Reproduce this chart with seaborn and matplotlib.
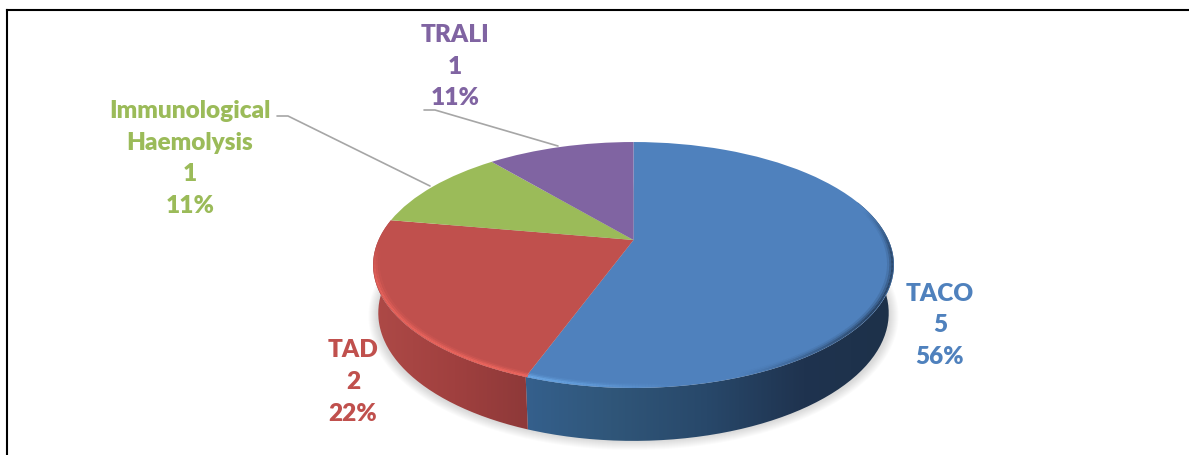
import numpy as np
import seaborn as sns
import matplotlib.pyplot as plt
from matplotlib.collections import LineCollection
from matplotlib.patches import PathPatch
from matplotlib.path import Path
from matplotlib.transforms import Transform

# Data
categories = ["TACO", "TAD", "Immunological\nHaemolysis", "TRALI"]
counts = [5, 2, 1, 1]
percents = ["56%", "22%", "11%", "11%"]
colors = ["#4F81BD", "#C0504D", "#9BBB59", "#8064A2"]

sns.set_theme(style="white")
plt.rcParams["font.family"] = ["Lato", "DejaVu Sans"]

W, H = 1189, 456
CX, CY, K, P, C = 633.5, 241.0, 255.0, -68.9, 0.2033


def project(u, v):
    # unit circle to the tilted pie top (pixel coordinates)
    d = 1 + C * v
    return CX + K * u / d, (CY + P * v) / d


def project_low(u, v):
    x, y = project(u, v)
    return CX + (x - CX) * 0.98, 314 + (y - 266) * 1.04


class Tilt(Transform):
    input_dims = output_dims = 2

    def transform_non_affine(self, values):
        x, y = project(values[:, 0], values[:, 1])
        return np.column_stack([x, y])


def on_circle(theta, r=1.0):
    # pie degrees to circle coordinates
    a = np.radians(theta)
    return r * np.cos(a), r * np.sin(a)


fig = plt.figure(figsize=(W / 100, H / 100), dpi=100)
ax = fig.add_axes([0, 0, 1, 1])

wedges, _ = ax.pie(counts, colors=colors, startangle=90, counterclock=False,
                   wedgeprops={"linewidth": 0})
for w in wedges:
    w.set_transform(Tilt() + ax.transData)
    w.set_zorder(5)

# soft shadow under the pie
t = np.linspace(0, 2 * np.pi, 300)
for k in range(10):
    ax.fill(CX + (256 + k) * np.cos(t), 317 + (125 + k) * np.sin(t),
            color="#808080", alpha=0.03, lw=0, zorder=1)

# side wall, shaded left to right
wall_cmaps = [
    sns.blend_palette(["#35618F", "#305679", "#28486A", "#1F334F", "#1D3149"], as_cmap=True),
    sns.blend_palette(["#AE4A47", "#A0403F", "#8B3838"], as_cmap=True),
]
wall_x = [(515, 900), (370, 540)]
for w, cmap, (x0, x1) in zip(wedges[:2], wall_cmaps, wall_x):
    th = np.linspace(max(min(w.theta1, w.theta2), -200), min(max(w.theta1, w.theta2), 20), 120)
    xa, ya = project(*on_circle(th))
    xb, yb = project_low(*on_circle(th))
    poly = np.column_stack([np.r_[xa, xb[::-1]], np.r_[ya, yb[::-1]]])
    im = ax.imshow(np.linspace(0, 1, 256)[None, :], cmap=cmap, aspect="auto", zorder=3,
                   extent=(x0, x1, 450, 180))
    im.set_clip_path(PathPatch(Path(poly, closed=False), transform=ax.transData))

# bevel along the front rim of the top face
th = np.linspace(15, -280, 500)
mid = (th[:-1] + th[1:]) / 2
rgba = np.zeros((len(mid), 4))
blue_light = (mid < -70) & (mid >= -110)
rgba[blue_light] = (0.42, 0.66, 0.90, 0)
rgba[blue_light, 3] = np.interp(mid[blue_light], [-110, -82], [0.95, 0])
dark = mid >= -70
rgba[dark] = (0.12, 0.20, 0.30, 0)
rgba[dark, 3] = np.interp(mid[dark], [-70, -35, -5, 15], [0, 0.8, 0.7, 0])
red_light = mid < -110
rgba[red_light] = (0.93, 0.40, 0.37, 0)
rgba[red_light, 3] = np.interp(-mid[red_light], [110, 160, 178], [0.95, 0.85, 0])
for r, a, lw in [(0.978, 0.2, 1.4), (0.986, 0.55, 1.4), (0.994, 1.0, 1.6)]:
    x, y = project(*on_circle(th, r))
    pts = np.column_stack([x, y])
    segs = np.stack([pts[:-1], pts[1:]], axis=1)
    shade = rgba.copy()
    shade[:, 3] *= a
    ax.add_collection(LineCollection(segs, colors=shade, linewidths=lw, zorder=6, capstyle="butt"))

# data labels
label_xy = [(940, 325.5), (353, 382), (190, 158.5), (455, 66.5)]
for name, n, pct, col, (lx, ly) in zip(categories, counts, percents, colors, label_xy):
    ax.text(lx, ly, f"{name}\n{n}\n{pct}", color=col, fontsize=17.6, fontweight="heavy",
            ha="center", va="center", linespacing=1.54, zorder=8)

# leader lines
ax.plot([277, 288, 430], [117, 117, 187], color="#A6A6A6", lw=1.2, zorder=2)
ax.plot([424, 435, 558], [111, 111, 147], color="#A6A6A6", lw=1.2, zorder=2)

# page border, left and top only
ax.plot([7, 7], [H, 11], color="black", lw=1.5, zorder=9, solid_capstyle="projecting")
ax.plot([7, W], [11, 11], color="black", lw=1.5, zorder=9, solid_capstyle="projecting")

ax.set_xlim(0, W)
ax.set_ylim(H, 0)
ax.set_aspect("auto")
ax.set_axis_off()
fig.savefig("out.png", dpi=100, facecolor="white")
